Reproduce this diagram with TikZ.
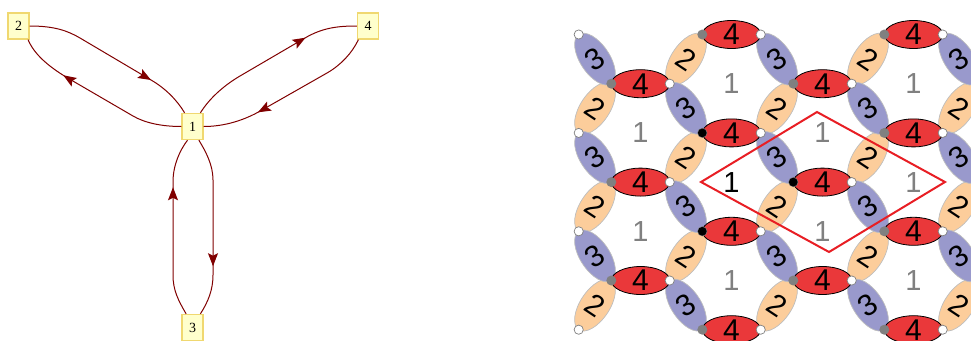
\documentclass[tikz,border=0pt]{standalone}
\usepackage{fontspec}
\setmainfont{Liberation Serif}
\newfontfamily\digitfont{Liberation Sans}
\usetikzlibrary{shapes.geometric, arrows.meta, decorations.markings}

\definecolor{edgered}{RGB}{128,0,0}
\definecolor{nodefill}{RGB}{255,255,204}
\definecolor{nodeborder}{RGB}{240,216,112}
\definecolor{petalred}{RGB}{234,56,58}
\definecolor{petalorange}{RGB}{252,205,155}
\definecolor{petalpurple}{RGB}{153,153,204}
\definecolor{petalrim}{RGB}{190,190,190}
\definecolor{vertexgray}{RGB}{128,128,128}
\definecolor{cellred}{RGB}{232,30,36}

% one lattice edge: an ellipse with its digit, both turned by the same angle
\newcommand\petal[5]{%
  \node[#4, rotate=#3] at (#1,#2) {};
  \node[digit, rotate=#3] at (#1,#2) {#5};
}

\begin{document}
\begin{tikzpicture}[x=1pt, y=-1pt,
  vertex/.style={draw=nodeborder, fill=nodefill, line width=1.4pt,
    minimum width=21pt, minimum height=26pt, inner sep=0pt,
    font=\fontsize{14}{14}\selectfont},
  link/.style={edgered, draw, line width=1pt, postaction={decorate},
    decoration={markings, mark=at position #1 with
      {\arrow{Stealth[length=13pt, width=10pt, inset=2.5pt]}}}},
  petal2/.style={ellipse, fill=petalorange, draw=petalrim, line width=0.7pt,
    minimum width=29.5pt, minimum height=59pt, inner sep=0pt},
  petal3/.style={petal2, fill=petalpurple},
  petal4/.style={ellipse, fill=petalred, draw=black, line width=0.8pt,
    minimum width=58.4pt, minimum height=28pt, inner sep=0pt},
  digit/.style={font=\digitfont\fontsize{30}{30}\selectfont, inner sep=0pt},
  one/.style={font=\digitfont\fontsize{29}{29}\selectfont, inner sep=0pt, text=vertexgray},
  wdot/.style={fill=white, draw=vertexgray, line width=0.7pt},
]
\useasboundingbox (0,0) rectangle (971,340);
\clip (0,0) rectangle (971,340);

% ---------- directed graph with paired edges ----------
\node[vertex] (n1) at (192.5,126.5) {1};
\node[vertex] (n2) at (18.5,26) {2};
\node[vertex] (n3) at (192.5,327.5) {3};
\node[vertex] (n4) at (368,26) {4};

\draw[link=0.74] (n2.east) .. controls (55,26) and (68,31) .. (80,38)
  -- (151,80) .. controls (165,88) and (177,100) .. (n1.120);
\draw[link=0.72] (n1.west) .. controls (162,126.5) and (145,123) .. (133,116)
  -- (66,77) .. controls (48,66) and (34,54) .. (n2.-55);
\draw[link=0.71] (n1.60) .. controls (209,99) and (223,86) .. (240,76)
  -- (305,38) .. controls (322,28) and (337,26) .. (n4.west);
\draw[link=0.69] (n4.-125) .. controls (352,53) and (341,65) .. (327,73)
  -- (262,110) .. controls (245,120) and (225,126.5) .. (n1.east);
\draw[link=0.72] (n3.115) .. controls (178,300) and (173,290) .. (173,275)
  -- (173,182) .. controls (173,165) and (180,150) .. (n1.-110);
\draw[link=0.72] (n1.-65) .. controls (206,152) and (213,165) .. (213,180)
  -- (213,275) .. controls (213,290) and (208,302) .. (n3.60);

% ---------- honeycomb of labelled edges ----------
% slanted edges
\foreach \x in {595,777,959}{
  \foreach \y in {108.3,206.7,305.1}{\petal{\x}{\y}{-33.5}{petal2}{2}}
  \foreach \y in {59.1,157.5,255.9}{\petal{\x}{\y}{33.5}{petal3}{3}}
}
\foreach \x in {686,868}{
  \foreach \y in {59.1,157.5,255.9}{\petal{\x}{\y}{-33.5}{petal2}{2}}
  \foreach \y in {108.3,206.7,305.1}{\petal{\x}{\y}{33.5}{petal3}{3}}
}
% horizontal edges
\foreach \x in {640.5,822.5}{
  \foreach \y in {83.7,182.1,280.5}{\petal{\x}{\y}{0}{petal4}{4}}
}
\foreach \x in {731.5,913.5}{
  \foreach \y in {34.5,132.9,231.3,329.7}{\petal{\x}{\y}{0}{petal4}{4}}
}
% vertices
\foreach \x in {640.5,822.5}{
  \foreach \y in {83.7,182.1,280.5}{
    \fill[vertexgray] (\x-29.2,\y) circle[radius=5];
    \filldraw[wdot] (\x+29.2,\y) circle[radius=4.6];
  }
}
\foreach \x in {731.5,913.5}{
  \foreach \y in {34.5,132.9,231.3,329.7}{
    \fill[vertexgray] (\x-29.2,\y) circle[radius=5];
    \filldraw[wdot] (\x+29.2,\y) circle[radius=4.6];
  }
}
\foreach \y in {34.5,132.9,231.3,329.7}{
  \filldraw[wdot] (578.7,\y) circle[radius=4.6];
}
\foreach \x/\y in {702.3/132.9, 702.3/231.3, 793.3/182.1}{
  \fill[black] (\x,\y) circle[radius=4.4];
}

% face labels
\foreach \x/\y in {640.5/132.9, 640.5/231.3, 731.5/83.7, 731.5/280.5,
  822.5/132.9, 822.5/231.3, 913.5/83.7, 913.5/182.1, 913.5/280.5}{
  \node[one] at (\x,\y) {1};
}
\node[one, text=black] at (731.5,182.1) {1};

% unit cell
\coordinate (cw) at (701,182);
\coordinate (cn) at (817,112);
\coordinate (ce) at (945,182);
\coordinate (cs) at (829,252);
\draw[cellred, line width=2pt, line join=miter] (cw) -- (cn) -- (ce) -- (cs) -- cycle;
\end{tikzpicture}
\end{document}
